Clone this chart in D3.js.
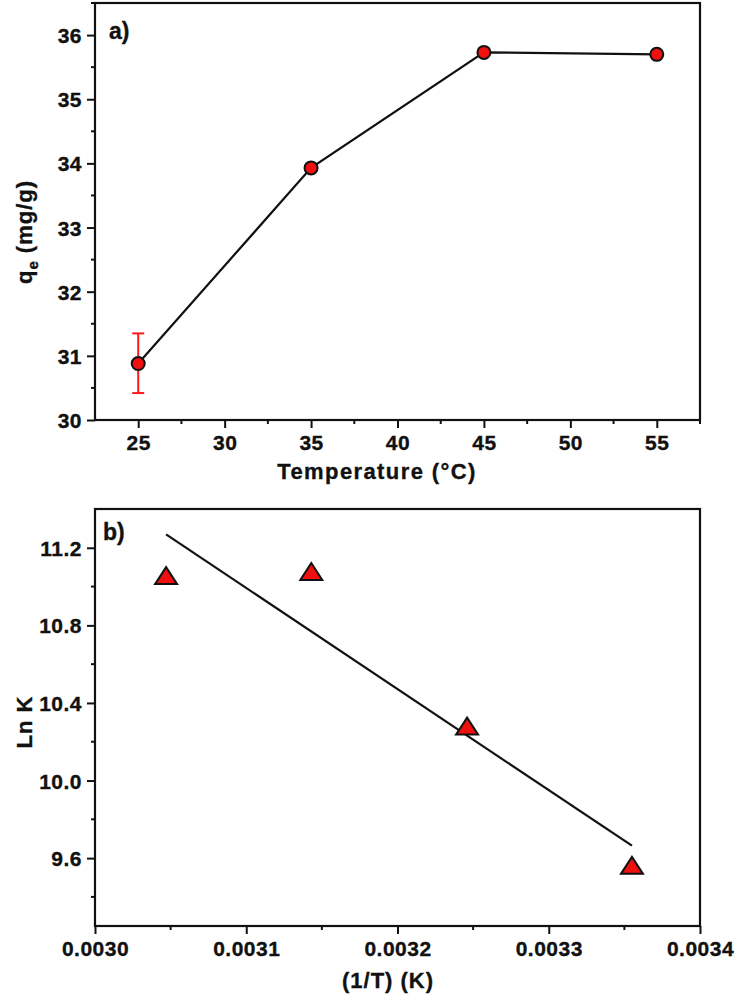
<!DOCTYPE html>
<html><head><meta charset="utf-8">
<script src="https://cdn.jsdelivr.net/npm/d3@7"></script>
<style>
html,body{margin:0;padding:0;background:#fff;}
svg text{font-family:"Liberation Sans",Arial,sans-serif;font-weight:bold;fill:#111;stroke:#111;stroke-width:0.35px;}
</style></head>
<body>
<svg id="c" width="739" height="998"></svg>
<script>
// Panel a data
const tempC = [25, 35, 45, 55];
const qe = [30.88, 33.93, 35.73, 35.70];
const qeErrLow = [30.42, null, null, null];
const qeErrHigh = [31.35, null, null, null];
const xTicksA = [25, 30, 35, 40, 45, 50, 55];
const yTicksA = [30, 31, 32, 33, 34, 35, 36];

// Panel b data
const invT = [0.003047, 0.003143, 0.003246, 0.003355];
const lnK = [11.054, 11.075, 10.278, 9.56];
const fitX = [0.003047, 0.003355];
const fitY = [11.269, 9.664];
const xTicksB = [0.0030, 0.0031, 0.0032, 0.0033, 0.0034];
const yTicksB = [9.6, 10.0, 10.4, 10.8, 11.2];

const svg = d3.select("#c");
const L = 95, R = 700;

function drawFrame(g, x, y, xTicks, xMinor, yTicks, yMinor, xFmt, yFmt) {
  const [y0, y1] = y.range();
  const [x0, x1] = x.range();
  g.selectAll(".xm").data(xMinor).join("line")
    .attr("x1", d => x(d)).attr("x2", d => x(d))
    .attr("y1", y0).attr("y2", y0 + 4)
    .attr("stroke", "#111").attr("stroke-width", 2);
  g.selectAll(".ym").data(yMinor).join("line")
    .attr("x1", x0 - 4).attr("x2", x0)
    .attr("y1", d => y(d)).attr("y2", d => y(d))
    .attr("stroke", "#111").attr("stroke-width", 2);
  const xa = g.append("g").attr("transform", `translate(0,${y0})`)
    .call(d3.axisBottom(x).tickValues(xTicks).tickFormat(xFmt).tickSize(8).tickSizeOuter(0));
  const ya = g.append("g").attr("transform", `translate(${x0},0)`)
    .call(d3.axisLeft(y).tickValues(yTicks).tickFormat(yFmt).tickSize(8).tickSizeOuter(0));
  [xa, ya].forEach(a => {
    a.select(".domain").remove();
    a.selectAll(".tick line").attr("stroke", "#111").attr("stroke-width", 2);
    a.selectAll("text").style("font-size", "21px").style("letter-spacing", "0.5px")
      .attr("fill", "#111").attr("stroke", "#111").attr("stroke-width", 0.35);
  });
  xa.selectAll("text").attr("y", 15);
  ya.selectAll("text").attr("x", -13).attr("dy", "0.36em");
  g.append("rect").attr("x", x0).attr("y", y1).attr("width", x1 - x0).attr("height", y0 - y1)
    .attr("fill", "none").attr("stroke", "#111").attr("stroke-width", 2.2);
}

// ---------- Panel a ----------
const xa = d3.scaleLinear().domain([22.5, 57.5]).range([L, R]);
const ya = d3.scaleLinear().domain([30, 36.5]).range([420, 3]);
const ga = svg.append("g");
drawFrame(ga, xa, ya, xTicksA, [27.5, 32.5, 37.5, 42.5, 47.5, 52.5, 57.5],
  yTicksA, [30.5, 31.5, 32.5, 33.5, 34.5, 35.5, 36.5], d3.format("d"), d3.format("d"));

ga.append("path").datum(tempC.map((t, i) => [t, qe[i]]))
  .attr("d", d3.line().x(d => xa(d[0])).y(d => ya(d[1])))
  .attr("fill", "none").attr("stroke", "#111").attr("stroke-width", 2.2);

const errData = tempC.map((t, i) => ({t, lo: qeErrLow[i], hi: qeErrHigh[i]})).filter(d => d.lo != null);
errData.forEach(d => {
  const eg = ga.append("g").attr("stroke", "#ff1a1a").attr("stroke-width", 2);
  eg.append("line").attr("x1", xa(d.t)).attr("x2", xa(d.t)).attr("y1", ya(d.lo)).attr("y2", ya(d.hi));
  eg.append("line").attr("x1", xa(d.t) - 6).attr("x2", xa(d.t) + 6).attr("y1", ya(d.lo)).attr("y2", ya(d.lo));
  eg.append("line").attr("x1", xa(d.t) - 6).attr("x2", xa(d.t) + 6).attr("y1", ya(d.hi)).attr("y2", ya(d.hi));
});

ga.selectAll("circle.pt").data(tempC).join("circle")
  .attr("cx", d => xa(d)).attr("cy", (d, i) => ya(qe[i])).attr("r", 6.5)
  .attr("fill", "#f01010").attr("stroke", "#111").attr("stroke-width", 2);

ga.append("text").attr("x", 109).attr("y", 39).style("font-size", "23px").text("a)");
ga.append("text").attr("x", 377).attr("y", 479).attr("text-anchor", "middle")
  .style("font-size", "22px").style("letter-spacing", "1.4px").text("Temperature (°C)");
const qt = ga.append("text").attr("transform", "translate(32,232) rotate(-90)").attr("text-anchor", "middle")
  .style("font-size", "22px").style("letter-spacing", "1px");
qt.append("tspan").text("q");
qt.append("tspan").attr("dy", 6).style("font-size", "15px").text("e");
qt.append("tspan").attr("dy", -6).text(" (mg/g)");

// ---------- Panel b ----------
const xb = d3.scaleLinear().domain([0.0030, 0.0034]).range([L, R]);
const yb = d3.scaleLinear().domain([9.25, 11.4]).range([926, 509]);
const gb = svg.append("g");
drawFrame(gb, xb, yb, xTicksB, [0.00305, 0.00315, 0.00325, 0.00335],
  yTicksB, [9.4, 9.8, 10.2, 10.6, 11.0], d3.format(".4f"), d3.format(".1f"));

gb.append("path").datum(fitX.map((v, i) => [v, fitY[i]]))
  .attr("d", d3.line().x(d => xb(d[0])).y(d => yb(d[1])))
  .attr("fill", "none").attr("stroke", "#111").attr("stroke-width", 2.2);

// flattened triangle marker (symbol shape, centred on the data point)
const triShape = "M0,-9L11,8L-11,8Z";
gb.selectAll("path.tri").data(invT).join("path")
  .attr("d", triShape)
  .attr("transform", (d, i) => `translate(${xb(d)},${yb(lnK[i])})`)
  .attr("fill", "#f01010").attr("stroke", "#111").attr("stroke-width", 2).attr("stroke-linejoin", "miter");

gb.append("text").attr("x", 103).attr("y", 540).style("font-size", "23px").text("b)");
gb.append("text").attr("x", 388).attr("y", 988).attr("text-anchor", "middle")
  .style("font-size", "22px").style("letter-spacing", "1px").text("(1/T) (K)");
gb.append("text").attr("transform", "translate(32,722) rotate(-90)").attr("text-anchor", "middle")
  .style("font-size", "22px").style("letter-spacing", "1px").text("Ln K");
</script>
</body></html>
